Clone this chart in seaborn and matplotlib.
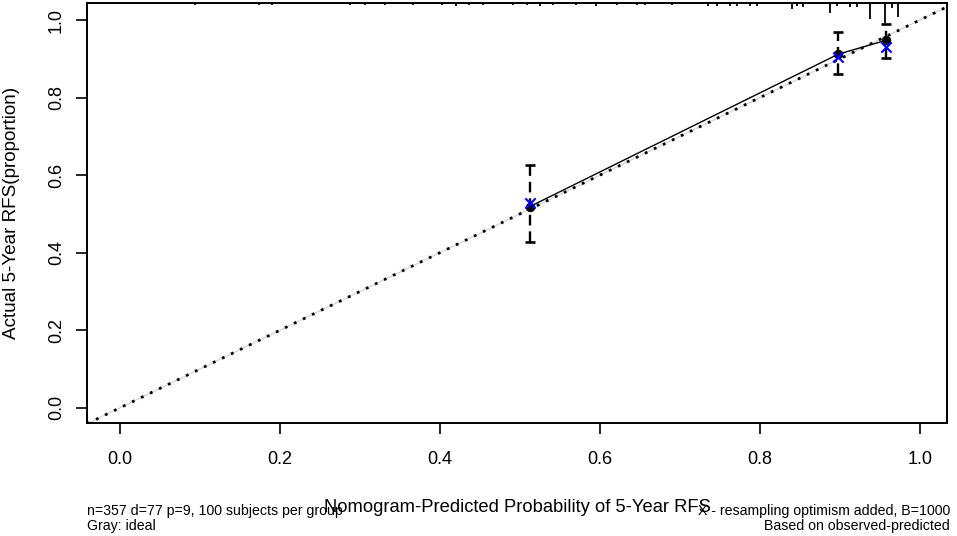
import numpy as np
import pandas as pd
import matplotlib
matplotlib.use("Agg")
import matplotlib.pyplot as plt
import matplotlib.transforms as mtransforms
import seaborn as sns

# ---- data ----
predicted = [0.5125, 0.898, 0.958]
observed = [0.519, 0.912, 0.948]
corrected = [0.529, 0.906, 0.931]
err_low = [0.427, 0.861, 0.901]
err_high = [0.626, 0.970, 0.991]

rug_x = [0.094, 0.174, 0.190, 0.2875, 0.306, 0.331, 0.366, 0.4025, 0.420, 0.436,
         0.454, 0.491, 0.509, 0.525, 0.541, 0.570, 0.595, 0.621, 0.646, 0.656,
         0.690, 0.735, 0.746, 0.7625, 0.771, 0.7875, 0.796, 0.840, 0.846, 0.854,
         0.8875, 0.896, 0.9125, 0.921, 0.9375, 0.956, 0.965, 0.9725]
rug_h = [1.5, 2, 2, 2, 1.5, 2, 2, 2, 2.5, 2,
         2, 2, 2, 3, 2, 2, 2.5, 2, 2, 2,
         2, 2.5, 2.5, 3, 3, 3, 3, 6, 3, 4,
         10, 3, 4, 4, 16, 20, 5, 14]

ticks = [0.0, 0.2, 0.4, 0.6, 0.8, 1.0]
tick_labels = ["0.0", "0.2", "0.4", "0.6", "0.8", "1.0"]

xlabel = "Nomogram-Predicted Probability of 5-Year RFS"
ylabel = "Actual 5-Year RFS(proportion)"
sub_left = "n=357 d=77 p=9, 100 subjects per group\nGray: ideal"
sub_right = "X - resampling optimism added, B=1000\nBased on observed-predicted"

sns.set_style("ticks")
plt.rcParams['font.family'] = ['Liberation Sans', 'DejaVu Sans']

W, H = 957, 536
fig = plt.figure(figsize=(W / 100, H / 100), dpi=100)
L, R, T, B = 87, 947, 3, 423
ax = fig.add_axes([L / W, (H - B) / H, (R - L) / W, (B - T) / H])

xlim = (-0.041, 1.034)
ylim = (-0.039, 1.044)

# ideal line
ideal = pd.DataFrame({"x": [xlim[0], xlim[1]], "y": [xlim[0], xlim[1]]})
sns.lineplot(data=ideal, x="x", y="y", ax=ax, color="#d0d0d0", lw=0.8, zorder=1)
sns.lineplot(data=ideal, x="x", y="y", ax=ax, color="black", lw=2.0,
             linestyle=(0, (1, 2.6)), zorder=2)

df = pd.DataFrame({"pred": predicted, "obs": observed, "corr": corrected,
                   "lo": err_low, "hi": err_high})

# calibration line through observed
sns.lineplot(data=df, x="pred", y="obs", ax=ax, color="black", lw=1.0, zorder=3)

# error bars (dashed) with caps
ax.vlines(df["pred"], df["lo"], df["hi"], colors="black", linestyles=(0, (4.5, 2.5)),
          lw=1.7, zorder=3)
cap = 0.0065
ax.hlines(df["lo"], df["pred"] - cap, df["pred"] + cap, colors="black", lw=1.9, zorder=3)
ax.hlines(df["hi"], df["pred"] - cap, df["pred"] + cap, colors="black", lw=1.9, zorder=3)

# observed points
sns.scatterplot(data=df, x="pred", y="obs", ax=ax, color="black", s=40,
                edgecolor="black", linewidth=0.5, zorder=4)
# bias corrected
sns.scatterplot(data=df, x="pred", y="corr", ax=ax, color="#0000ff", marker="x",
                s=55, linewidth=1.5, zorder=5)

# rug / distribution of predictions at top
trans = mtransforms.blended_transform_factory(ax.transData, ax.transAxes)
rug_frac = [h / (B - T) for h in rug_h]
ax.vlines(rug_x, [1 - f for f in rug_frac], [1.0] * len(rug_x), colors="black",
          lw=1.3, transform=trans, zorder=3)

ax.set_xlim(*xlim)
ax.set_ylim(*ylim)
ax.set_xticks(ticks)
ax.set_xticklabels(tick_labels)
ax.set_yticks(ticks)
ax.set_yticklabels(tick_labels)
for sp in ax.spines.values():
    sp.set_visible(True)
    sp.set_linewidth(1.4)
    sp.set_color("black")
ax.tick_params(axis="both", direction="out", length=8, width=1.2, color="black",
               labelsize=13, labelcolor="black")
ax.tick_params(axis="x", pad=12)
ax.tick_params(axis="y", pad=8)
plt.setp(ax.get_yticklabels(), rotation=90, va="center", ha="right")

ax.set_xlabel("")
ax.set_ylabel("")
fig.text((L + R) / 2 / W, 1 - 507 / H, xlabel, ha="center", va="center",
         fontsize=13.2, color="black")
fig.text(12 / W, 1 - ((T + B) / 2) / H, ylabel, ha="center", va="center",
         rotation=90, fontsize=13.6, color="black")
fig.text(87 / W, 1 - 504 / H, sub_left, ha="left", va="top", fontsize=10.2,
         linespacing=1.12, color="black")
fig.text(950 / W, 1 - 504 / H, sub_right, ha="right", va="top", fontsize=10.2,
         linespacing=1.12, multialignment="right", color="black")

fig.savefig("out.png", dpi=100)
